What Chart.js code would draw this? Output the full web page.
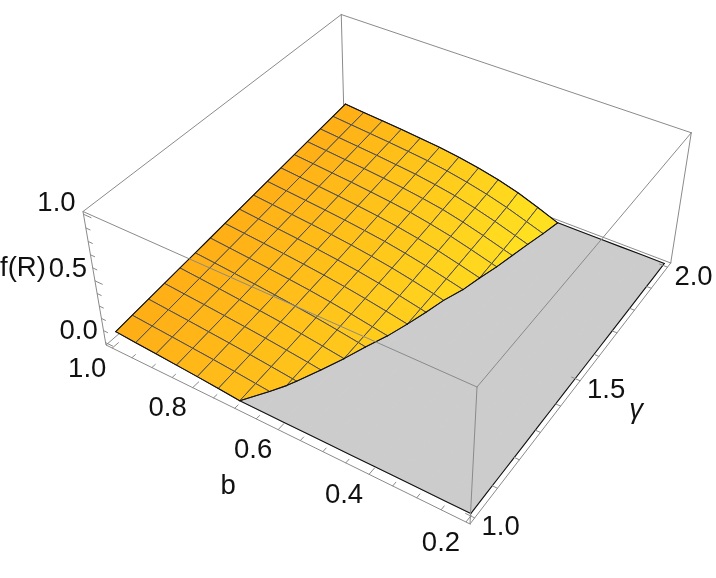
<!DOCTYPE html>
<html><head><meta charset="utf-8">
<script src="https://cdn.jsdelivr.net/npm/chart.js@4"></script>
<style>html,body{margin:0;padding:0;background:#fff}canvas{display:block}</style>
</head><body><canvas id="c" width="716" height="578"></canvas>
<script>
// Mesh axes
const bValues = [1,.95,.9,.85,.8,.75,.7,.65,.6,.55,.5,.45,.4,.35,.3,.25,.2];
const gammaValues = [1,1.0625,1.125,1.1875,1.25,1.3125,1.375,1.4375,1.5,1.5625,1.625,1.6875,1.75,1.8125,1.875,1.9375,2];
// f(R): one row per gamma, one value per b (below 0 = clipped to the grey floor)
const fR = [
[.078,.066,.054,.042,.030,.016,0,-.016,-.032,-.048,-.064,-.08,-.096,-.112,-.128,-.144,-.16],
[.094,.0815,.069,.056,.043,.028,.011,-.006,-.025,-.044,-.062,-.08,-.098,-.116,-.134,-.152,-.17],
[.110,.097,.084,.070,.056,.040,.0225,.004,-.018,-.04,-.06,-.08,-.10,-.12,-.14,-.16,-.18],
[.126,.1125,.099,.0845,.0695,.053,.034,.014,-.009,-.032,-.055,-.078,-.10,-.122,-.145,-.168,-.19],
[.1415,.128,.114,.099,.083,.066,.046,.024,0,-.024,-.05,-.075,-.10,-.125,-.15,-.175,-.20],
[.157,.1435,.129,.114,.098,.080,.060,.036,.010,-.02,-.05,-.08,-.11,-.14,-.17,-.20,-.23],
[.173,.159,.1445,.129,.113,.095,.073,.0485,.020,-.008,-.04,-.07,-.10,-.13,-.16,-.19,-.22],
[.189,.175,.160,.145,.128,.109,.087,.061,.0316,0,-.034,-.067,-.10,-.135,-.17,-.205,-.24],
[.205,.190,.175,.160,.143,.124,.102,.075,.044,.0096,-.028,-.065,-.10,-.14,-.18,-.22,-.26],
[.221,.2064,.191,.176,.159,.140,.1165,.0895,.0566,.0199,-.022,-.063,-.105,-.147,-.19,-.23,-.27],
[.237,.222,.207,.192,.175,.155,.133,.104,.0707,.0317,-.008,-.05,-.095,-.14,-.185,-.23,-.275],
[.2526,.238,.223,.208,.191,.172,.149,.120,.0854,.0437,0,-.045,-.09,-.14,-.19,-.24,-.29],
[.2685,.254,.239,.2245,.207,.1885,.1665,.136,.101,.0575,.011,-.035,-.085,-.135,-.185,-.235,-.285],
[.2843,.270,.255,.241,.224,.205,.1817,.1544,.1156,.0705,.021,-.028,-.08,-.13,-.185,-.24,-.295],
[.300,.286,.272,.258,.241,.2235,.199,.170,.131,.085,.0324,-.02,-.075,-.13,-.185,-.24,-.295],
[.316,.302,.288,.274,.258,.2405,.217,.1855,.148,.1014,.046,-.01,-.07,-.135,-.2,-.26,-.325],
[.332,.318,.305,.292,.277,.26,.238,.208,.172,.125,.065,0,-.07,-.14,-.21,-.28,-.35]
];
// Ticks
const bTicks = [1,.95,.9,.85,.8,.75,.7,.65,.6,.55,.5,.45,.4,.35,.3,.25,.2];
const bMajor = [1,.8,.6,.4,.2];
const gammaTicks = [1,1.1,1.2,1.3,1.4,1.5,1.6,1.7,1.8,1.9,2];
const gammaMajor = [1,1.5,2];
const zTicks = [0,.1,.2,.3,.4,.5,.6,.7,.8,.9,1];
const zMajor = [0,.5,1];

// Box ranges (padding) and camera
const bLo=.192,bHi=1.016,gLo=.98,gHi=2.02,zLo=-.02,zHi=1.02;
const cam={x:[106,307.46,304,-29.14],y:[345,115.96,-179.63,-149.15],t:[1,-.1203,.19,-.074]};
function project(b,g,z){
  const U=(bHi-b)/(bHi-bLo),V=(g-gLo)/(gHi-gLo),W=(z-zLo)/(zHi-zLo);
  const f=c=>c[0]+c[1]*U+c[2]*V+c[3]*W;
  const T=f(cam.t);
  return {x:f(cam.x)/T,y:f(cam.y)/T};
}
const sets=[];
function line(pts,color,width){
  sets.push({data:pts.map(p=>project(p[0],p[1],p[2])),showLine:true,fill:false,borderColor:color,borderWidth:width,pointRadius:0,tension:0,borderJoinStyle:'round',borderCapStyle:'round'});
}
function poly(pts,fillColor,color,width){
  const q=pts.concat([pts[0]]);
  sets.push({data:q.map(p=>project(p[0],p[1],p[2])),showLine:true,fill:'shape',backgroundColor:fillColor,borderColor:color,borderWidth:width,pointRadius:0,tension:0,borderJoinStyle:'round'});
}
const boxColor='#8a8a8a',meshColor='#4d4d4d',edgeColor='#111';
// back box edges, hidden by the surface
line([[bHi,gLo,zLo],[bHi,gHi,zLo]],boxColor,1);
line([[bHi,gHi,zLo],[bLo,gHi,zLo]],boxColor,1);
line([[bHi,gHi,zLo],[bHi,gHi,zHi]],boxColor,1);
// clip one quad against z=0
function clipQuad(q,keepAbove){
  const out=[],cut=[];
  for(let i=0;i<q.length;i++){
    const a=q[i],c=q[(i+1)%q.length];
    const ia=keepAbove?a[2]>=0:a[2]<=0, ic=keepAbove?c[2]>=0:c[2]<=0;
    if(ia)out.push(a);
    if(ia!==ic&&a[2]!==c[2]){
      const s=a[2]/(a[2]-c[2]);
      const m=[a[0]+s*(c[0]-a[0]),a[1]+s*(c[1]-a[1]),0];
      out.push(m);cut.push(m);
    }
  }
  return {out,cut};
}
function shade(b,g){
  let t=((1-b)/.5)*(.55+.45*(g-1));
  t=Math.max(0,Math.min(1,t));
  return `rgb(255,${Math.round(174+50*t)},${Math.round(22+10*t)})`;
}
const contour=[];
const nB=bValues.length,nG=gammaValues.length;
for(let j=nG-2;j>=0;j--){
  for(let k=0;k<nB-1;k++){
    const q=[[bValues[k],gammaValues[j],fR[j][k]],[bValues[k+1],gammaValues[j],fR[j][k+1]],
             [bValues[k+1],gammaValues[j+1],fR[j+1][k+1]],[bValues[k],gammaValues[j+1],fR[j+1][k]]];
    const low=clipQuad(q,false);
    if(low.out.length>2)poly(low.out.map(p=>[p[0],p[1],0]),'#cccccc','#cccccc',1);
  }
}
for(let j=nG-2;j>=0;j--){
  for(let k=0;k<nB-1;k++){
    const q=[[bValues[k],gammaValues[j],fR[j][k]],[bValues[k+1],gammaValues[j],fR[j][k+1]],
             [bValues[k+1],gammaValues[j+1],fR[j+1][k+1]],[bValues[k],gammaValues[j+1],fR[j+1][k]]];
    const up=clipQuad(q,true);
    if(up.out.length>2){
      poly(up.out,shade((bValues[k]+bValues[k+1])/2,(gammaValues[j]+gammaValues[j+1])/2),meshColor,1);
      if(up.cut.length===2)contour.push(up.cut);
    }
  }
}
// outline of the surface and of the floor
contour.forEach(c=>line(c,edgeColor,1.1));
const lastB=nB-1,lastG=nG-1;
line(gammaValues.map((g,j)=>[bValues[0],g,fR[j][0]]),edgeColor,1.1);
line(bValues.map((b,k)=>[b,gammaValues[0],Math.max(0,fR[0][k])]),edgeColor,1.1);
line(bValues.map((b,k)=>[b,gammaValues[lastG],Math.max(0,fR[lastG][k])]),edgeColor,1.1);
line(gammaValues.map(g=>[bValues[lastB],g,0]),edgeColor,1.1);
// remaining box edges
[[[bHi,gLo,zLo],[bLo,gLo,zLo]],[[bLo,gLo,zLo],[bLo,gHi,zLo]],[[bHi,gLo,zLo],[bHi,gLo,zHi]],
 [[bLo,gLo,zLo],[bLo,gLo,zHi]],[[bLo,gHi,zLo],[bLo,gHi,zHi]],[[bHi,gLo,zHi],[bLo,gLo,zHi]],
 [[bLo,gLo,zHi],[bLo,gHi,zHi]],[[bLo,gHi,zHi],[bHi,gHi,zHi]],[[bHi,gHi,zHi],[bHi,gLo,zHi]]]
 .forEach(e=>line(e,boxColor,1));
// tick marks
const minorU=.0125*(bHi-bLo),majorU=.022*(bHi-bLo),minorV=.0125*(gHi-gLo),majorV=.022*(gHi-gLo);
bTicks.forEach(b=>line([[b,gLo,zLo],[b,gLo+(bMajor.includes(b)?majorV:minorV),zLo]],boxColor,1));
gammaTicks.forEach(g=>line([[bLo,g,zLo],[bLo+(gammaMajor.includes(g)?majorU:minorU),g,zLo]],boxColor,1));
zTicks.forEach(z=>line([[bHi,gLo,z],[bHi-(zMajor.includes(z)?majorU:minorU),gLo,z]],boxColor,1));

const textPlugin={id:'axisText',afterDraw(chart){
  const {ctx,scales:{x,y}}=chart;
  ctx.save();ctx.fillStyle='#111';ctx.textAlign='center';ctx.textBaseline='middle';
  const put=(s,p,dx,dy,font)=>{ctx.font=font;ctx.fillText(s,x.getPixelForValue(p.x)+dx,y.getPixelForValue(p.y)+dy);};
  const f='27.5px "Liberation Sans"';
  bMajor.forEach(b=>put(b.toFixed(1),project(b,gLo,zLo),-25,21,f));
  gammaMajor.forEach(g=>put(g.toFixed(1),project(bLo,g,zLo),26,10,f));
  zMajor.forEach(z=>put(z.toFixed(1),project(bHi,gLo,z),-27,-11,f));
  put('b',project(.6,gLo,zLo),-50,57,f);
  put('γ',project(bLo,1.5,zLo),56,30,'italic 27.5px "Liberation Sans"');
  put('f(R)',project(bHi,gLo,.5),-72,-12,f);
  ctx.restore();
}};
new Chart(document.getElementById('c'),{
  type:'scatter',
  data:{datasets:sets.reverse()},
  plugins:[textPlugin],
  options:{responsive:false,animation:false,events:[],layout:{padding:0},
    plugins:{legend:{display:false},tooltip:{enabled:false},title:{display:false}},
    scales:{x:{type:'linear',min:0,max:716,display:false},y:{type:'linear',min:0,max:578,reverse:true,display:false}}}
});
</script></body></html>
